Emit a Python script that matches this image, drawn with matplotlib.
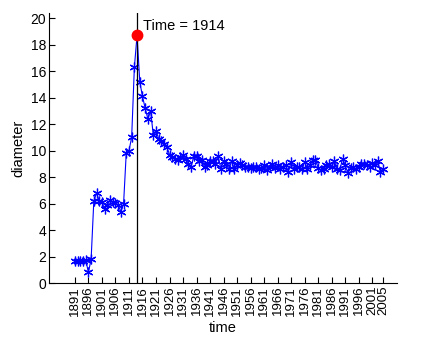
import matplotlib
matplotlib.use("Agg")
import matplotlib.pyplot as plt

plt.rcParams['font.family'] = ['Liberation Sans', 'DejaVu Sans']

years = list(range(1891, 2006))
diameter = [
    1.7, 1.7, 1.65, 1.65, 1.75, 0.8, 1.8, 6.2, 6.8, 6.2,
    6.1, 5.6, 5.9, 6.25, 6.1, 6.05, 5.9, 5.4, 5.95, 9.85,
    10.0, 11.0, 16.3, 18.7, 15.2, 14.1, 13.2, 12.4, 13.0, 11.2,
    11.5, 10.9, 10.7, 10.5, 10.3, 9.7, 9.5, 9.4, 9.3, 9.5,
    9.7, 9.4, 9.0, 8.8, 9.6, 9.6, 9.2, 9.3, 8.8, 8.9,
    9.2, 9.2, 9.0, 9.6, 8.6, 9.2, 9.0, 8.6, 9.2, 8.6,
    8.9, 9.1, 8.9, 8.8, 8.75, 8.7, 8.8, 8.8, 8.6, 8.7,
    8.9, 8.55, 8.8, 9.0, 8.7, 8.9, 8.6, 8.8, 8.9, 8.4,
    9.15, 8.65, 8.8, 8.8, 8.6, 9.15, 8.65, 8.9, 9.3, 9.3,
    8.7, 8.5, 8.6, 8.9, 9.0, 8.8, 9.2, 8.65, 8.5, 9.4,
    8.9, 8.3, 8.7, 8.8, 8.6, 8.8, 9.0, 9.0, 8.9, 8.8,
    9.1, 8.9, 9.2, 8.4, 8.65,
]
peak_year = 1914
peak_value = 18.7
xticks = list(range(1891, 2005, 5)) + [2005]
yticks = list(range(0, 21, 2))

fig = plt.figure(figsize=(4.22, 3.41), dpi=100)
ax = fig.add_axes([0.116, 0.170, 0.825, 0.792])

ax.plot(years, diameter, color='blue', linewidth=0.8,
        marker=(6, 2, 0), markersize=7, markeredgewidth=0.9,
        markeredgecolor='blue')
ax.axvline(peak_year, color='black', linewidth=0.9)
ax.plot([peak_year], [peak_value], 'o', color='red', markersize=7.5)
ax.text(peak_year + 2.2, peak_value + 0.7, f"Time = {peak_year}",
        fontsize=10.5, va='center', ha='left')

ax.set_xlim(1881.4, 2010.2)
ax.set_ylim(0, 20.4)
ax.set_xticks(xticks)
ax.set_xticklabels([str(t) for t in xticks], rotation=90, fontsize=9.5)
ax.set_yticks(yticks)
ax.set_yticklabels([str(t) for t in yticks], fontsize=10)
ax.tick_params(direction='in', length=4, width=0.8, pad=2)
for s in ['top', 'right']:
    ax.spines[s].set_visible(False)
for s in ['left', 'bottom']:
    ax.spines[s].set_linewidth(0.8)

ax.set_xlabel('time', fontsize=10.5)
ax.set_ylabel('diameter', fontsize=10.5)

fig.savefig('out.png', dpi=100)
